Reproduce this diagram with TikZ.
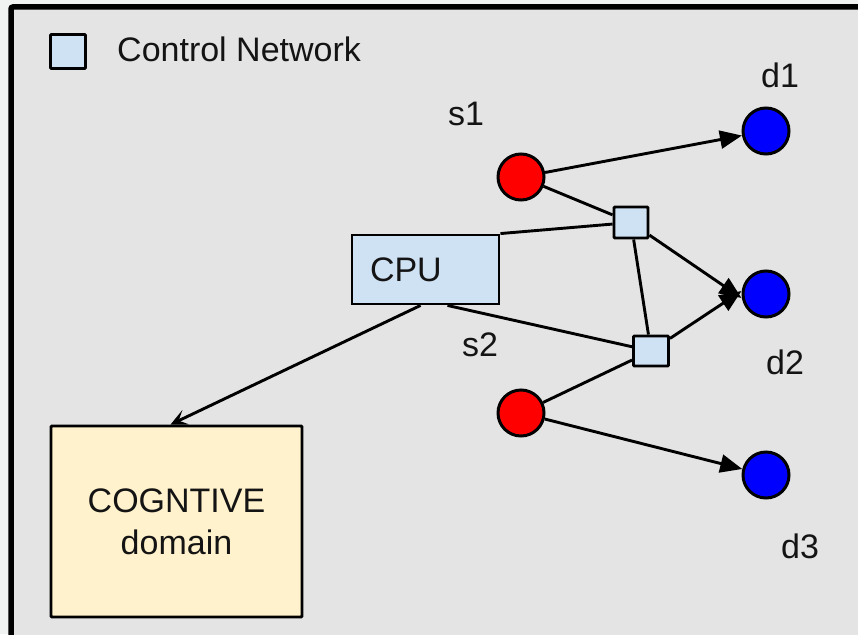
\documentclass[tikz,border=0pt]{standalone}
\usepackage{fontspec}
\setmainfont{Liberation Sans}
\usetikzlibrary{arrows.meta}

\definecolor{pagebg}{HTML}{F1F2F2}
\definecolor{panelbg}{HTML}{E4E4E4}
\definecolor{ctrlblue}{HTML}{CFE2F3}
\definecolor{cogyellow}{HTML}{FFF2CC}
\definecolor{srcred}{HTML}{FF0000}
\definecolor{dstblue}{HTML}{0000FF}

\tikzset{
  every node/.style={font=\fontsize{34}{42}\selectfont, inner sep=0pt, text=black!92},
  ctrlbox/.style={draw=black, line width=2.9pt, fill=ctrlblue, rounded corners=1pt},
  srcnode/.style={circle, draw=black, line width=3pt, fill=srcred, minimum size=46pt},
  dstnode/.style={circle, draw=black, line width=3pt, fill=dstblue, minimum size=46pt},
  wire/.style={line width=2.9pt, black},
  flow/.style={wire, -{Triangle[length=22pt,width=18pt]}},
  report/.style={wire, -{Stealth[length=17pt,width=16pt,inset=8pt]}},
  tag/.style={anchor=base west}
}

\begin{document}
\begin{tikzpicture}[x=1pt, y=-1pt]
  \useasboundingbox (0,0) rectangle (858,634);
  \fill[pagebg] (0,0) rectangle (858,634);
  \clip (0,0) rectangle (858,634);

  % framed panel
  \draw[line width=5.5pt, fill=panelbg, rounded corners=2pt] (11,7) rectangle (880,660);

  % legend
  \node[ctrlbox, minimum width=35pt, minimum height=34pt] (legend) at (68,51.5) {};
  \node[tag] (legendtext) at (117,61) {Control Network};

  % controller and cognitive domain
  \node[ctrlbox, rounded corners=0pt, minimum width=147pt, minimum height=69pt,
        text width=111pt, inner xsep=18pt, align=left] (cpu) at (425.5,269.5) {CPU};
  \node[draw=black, line width=2.9pt, fill=cogyellow, rounded corners=1pt,
        minimum width=251pt, minimum height=191pt, align=center] (cog) at (176.5,521.5)
        {COGNTIVE\\domain};

  % switches
  \node[ctrlbox, minimum width=34pt, minimum height=31pt] (sw1) at (631,222.5) {};
  \node[ctrlbox, minimum width=35pt, minimum height=30pt] (sw2) at (651,351) {};

  % sources and destinations
  \node[srcnode] (s1) at (521,177) {};
  \node[srcnode] (s2) at (521,413) {};
  \node[dstnode] (d1) at (766,131) {};
  \node[dstnode] (d2) at (766,294) {};
  \node[dstnode] (d3) at (766,475) {};

  % labels
  \node[tag] (s1lab) at (448,125) {s1};
  \node[tag] (s2lab) at (462,356) {s2};
  \node[tag] (d1lab) at (761,87) {d1};
  \node[tag] (d2lab) at (766,374) {d2};
  \node[tag] (d3lab) at (781,558) {d3};

  % control links
  \draw[wire] (cpu.north east) -- (sw1);
  \draw[wire] ([xshift=22pt]cpu.south) -- (sw2);
  \draw[wire] (sw1) -- (sw2);
  \draw[wire] (s1) -- (sw1);
  \draw[wire] (s2) -- (sw2);
  \draw[report] ([xshift=-5pt]cpu.south) -- ([xshift=-6pt]cog.north);

  % data flows
  \draw[flow] (s1) -- (d1);
  \draw[flow] (sw1) -- ([yshift=-4pt]d2.west);
  \draw[flow] (sw2) -- ([yshift=3pt]d2.west);
  \draw[flow] (s2) -- (d3);
\end{tikzpicture}
\end{document}
